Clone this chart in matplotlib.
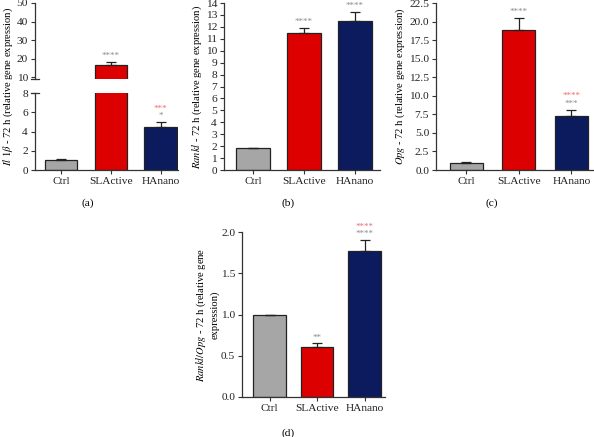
import matplotlib.pyplot as plt

plt.rcParams['font.family'] = ['Liberation Serif', 'DejaVu Serif']
plt.rcParams['mathtext.fontset'] = 'stix'

# datos
grupos = ['Ctrl', 'SLActive', 'HAnano']
colores = ['#a6a6a6', '#dd0000', '#0c1a5e']

il1b = [1.05, 16.3, 4.5]
il1b_err = [0.05, 1.7, 0.5]

rankl = [1.83, 11.5, 12.5]
rankl_err = [0.03, 0.42, 0.72]

opg = [1.0, 18.9, 7.25]
opg_err = [0.05, 1.6, 0.9]

ratio = [0.995, 0.61, 1.77]
ratio_err = [0.005, 0.04, 0.13]

# asteriscos (gris: vs Ctrl, rojo: vs SLActive)
sig_il1b = ['', '****', '*']
sig_il1b_rojo = ['', '', '***']
sig_rankl = ['', '****', '****']
sig_rankl_rojo = ['', '', '']
sig_opg = ['', '****', '***']
sig_opg_rojo = ['', '', '****']
sig_ratio = ['', '**', '****']
sig_ratio_rojo = ['', '', '****']

GRIS_AST = '#8a8a8a'
ROJO_AST = '#f06a6a'
BORDE = '#222222'
TAM_TICK = 8.2
TAM_YLAB = 7.6

fig = plt.figure(figsize=(5.94, 4.37), dpi=100)


def estilo(ax, ymin, ymax, ticks, fmt='{:g}'):
    ax.set_ylim(ymin, ymax)
    ax.set_yticks(ticks)
    ax.set_yticklabels([fmt.format(t) for t in ticks])
    for s in ['top', 'right']:
        ax.spines[s].set_visible(False)
    for s in ['left', 'bottom']:
        ax.spines[s].set_color('#333333')
        ax.spines[s].set_linewidth(0.9)
    ax.tick_params(axis='both', direction='out', length=3, width=0.8,
                   colors='#333333', labelsize=TAM_TICK, labelcolor='#222222', pad=2)


def barras(ax, valores, errores, ancho):
    x = range(len(valores))
    ax.bar(x, valores, width=ancho, color=colores, edgecolor=BORDE, linewidth=0.9, zorder=2)
    ax.errorbar(x, valores, yerr=[[0] * len(errores), errores], fmt='none',
                ecolor=BORDE, elinewidth=0.9, capsize=3.5, capthick=0.9, zorder=3)


def asteriscos(ax, valores, errores, grises, rojos):
    for i in range(len(valores)):
        top = valores[i] + errores[i]
        if grises[i]:
            ax.annotate(grises[i], (i, top), xytext=(0, 4.3), textcoords='offset points',
                        ha='center', va='center', fontsize=6.5, color=GRIS_AST)
        if rojos[i]:
            ax.annotate(rojos[i], (i, top), xytext=(0, 9.6), textcoords='offset points',
                        ha='center', va='center', fontsize=6.5, color=ROJO_AST)


# (a) eje con corte
ax_lo = fig.add_axes([35 / 594, 1 - 170 / 437, 143 / 594, 77 / 437])
ax_hi = fig.add_axes([35 / 594, 1 - 79 / 437, 143 / 594, 76 / 437], sharex=ax_lo)
for ax in (ax_lo, ax_hi):
    barras(ax, il1b, il1b_err, 0.65)
    ax.set_xlim(-0.53, 2.35)
estilo(ax_lo, 0, 8, [0, 2, 4, 6, 8])
estilo(ax_hi, 9, 50, [10, 20, 30, 40, 50])
ax_hi.spines['bottom'].set_visible(False)
ax_hi.tick_params(axis='x', bottom=False, labelbottom=False)
ax_lo.set_xticks(range(3))
ax_lo.set_xticklabels(grupos)
# marcas del corte
ax_lo.plot([-0.03, 0.03], [1, 1], transform=ax_lo.transAxes, color='#333333', lw=0.9, clip_on=False)
ax_hi.plot([-0.03, 0.03], [0, 0], transform=ax_hi.transAxes, color='#333333', lw=0.9, clip_on=False)
asteriscos(ax_hi, il1b, il1b_err, ['', '****', ''], ['', '', ''])
asteriscos(ax_lo, il1b, il1b_err, ['', '', '*'], sig_il1b_rojo)
fig.text(8 / 594, 1 - 87 / 437, r'$Il\ 1\beta$ - 72 h (relative gene expression)',
         rotation=90, ha='center', va='center', fontsize=TAM_YLAB)
fig.text(88 / 594, 1 - 203 / 437, '(a)', ha='center', va='center', fontsize=TAM_TICK)

# (b) Rankl
ax_b = fig.add_axes([224 / 594, 1 - 170 / 437, 156 / 594, 167 / 437])
barras(ax_b, rankl, rankl_err, 0.65)
ax_b.set_xlim(-0.57, 2.49)
estilo(ax_b, 0, 14, list(range(15)))
ax_b.set_xticks(range(3))
ax_b.set_xticklabels(grupos)
asteriscos(ax_b, rankl, rankl_err, sig_rankl, sig_rankl_rojo)
ax_b.set_ylabel(r'$Rankl$ - 72 h (relative gene expression)', fontsize=TAM_YLAB, labelpad=1)
fig.text(288 / 594, 1 - 203 / 437, '(b)', ha='center', va='center', fontsize=TAM_TICK)

# (c) Opg
ax_c = fig.add_axes([436 / 594, 1 - 170 / 437, 158 / 594, 167 / 437])
barras(ax_c, opg, opg_err, 0.63)
ax_c.set_xlim(-0.58, 2.43)
estilo(ax_c, 0, 22.5, [0, 2.5, 5, 7.5, 10, 12.5, 15, 17.5, 20, 22.5], '{:.1f}')
ax_c.set_xticks(range(3))
ax_c.set_xticklabels(grupos)
asteriscos(ax_c, opg, opg_err, sig_opg, sig_opg_rojo)
ax_c.set_ylabel(r'$Opg$ - 72 h (relative gene expression)', fontsize=TAM_YLAB, labelpad=1)
fig.text(492 / 594, 1 - 203 / 437, '(c)', ha='center', va='center', fontsize=TAM_TICK)

# (d) Rankl/Opg
ax_d = fig.add_axes([242 / 594, 1 - 397 / 437, 143 / 594, 165 / 437])
barras(ax_d, ratio, ratio_err, 0.69)
ax_d.set_xlim(-0.58, 2.43)
estilo(ax_d, 0, 2.0, [0, 0.5, 1.0, 1.5, 2.0], '{:.1f}')
ax_d.set_xticks(range(3))
ax_d.set_xticklabels(grupos)
asteriscos(ax_d, ratio, ratio_err, sig_ratio, sig_ratio_rojo)
ax_d.set_ylabel(r'$Rankl/Opg$ - 72 h (relative gene' + '\nexpression)', fontsize=TAM_YLAB, labelpad=1)
fig.text(288 / 594, 1 - 433 / 437, '(d)', ha='center', va='center', fontsize=TAM_TICK)

fig.savefig('out.png', dpi=100)
